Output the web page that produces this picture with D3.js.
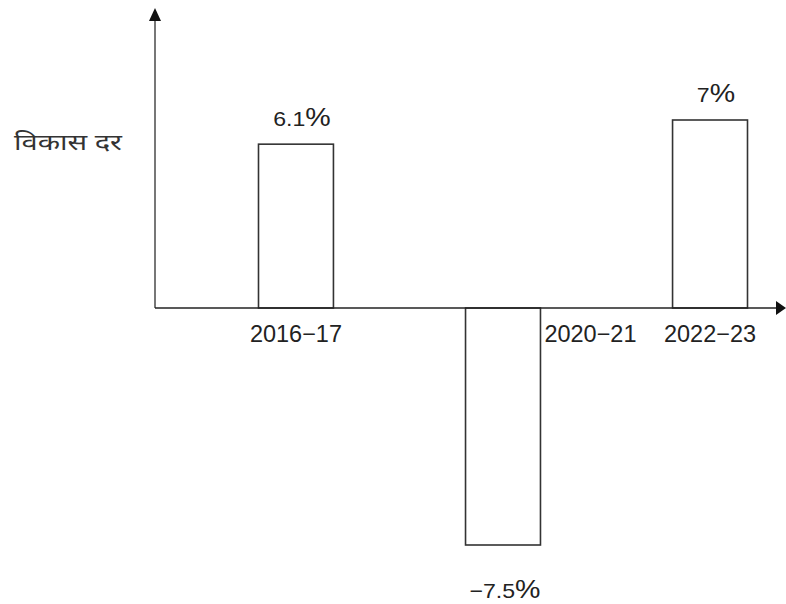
<!DOCTYPE html>
<html><head><meta charset="utf-8">
<script src="https://cdn.jsdelivr.net/npm/d3@7"></script>
<style>html,body{margin:0;padding:0;background:#fff;}svg{display:block;}</style>
</head><body>
<svg id="c" width="786" height="604"></svg>
<script>
const categories = ["2016\u221217", "2020\u221221", "2022\u221223"];
const values = [6.1, -7.5, 7];
const valueLabels = ["6.1", "\u22127.5", "7"];
const yLabel = "विकास दर";

const svg = d3.select("#c");
const ink = "#333";
const font = "'Liberation Sans', Arial, sans-serif";

const axisX0 = 155, axisX1 = 786, axisTop = 8;
const x = d3.scaleBand().domain(categories).range([258.5, 747.5]).paddingInner(0.638).paddingOuter(0);
const y = d3.scaleLinear()
  .domain([d3.min(values), 0, d3.max(values)])
  .range([545, 308, 120]);

// bars
svg.selectAll("rect.bar").data(values).join("rect")
  .attr("class", "bar")
  .attr("x", (d, i) => x(categories[i]))
  .attr("width", x.bandwidth())
  .attr("y", d => Math.min(y(d), y(0)))
  .attr("height", d => Math.abs(y(d) - y(0)))
  .attr("fill", "#fff").attr("stroke", ink).attr("stroke-width", 1.6);

// axes
svg.append("line").attr("x1", axisX0).attr("x2", axisX0).attr("y1", y(0)).attr("y2", axisTop + 10)
  .attr("stroke", "#555").attr("stroke-width", 1.6);
svg.append("path").attr("d", `M${axisX0},${axisTop} L${axisX0-6},${axisTop+13} L${axisX0+6},${axisTop+13} Z`).attr("fill", "#111");
svg.append("line").attr("x1", axisX0).attr("x2", axisX1 - 10).attr("y1", y(0)).attr("y2", y(0))
  .attr("stroke", "#222").attr("stroke-width", 1.6);
svg.append("path").attr("d", `M${axisX1},${y(0)} L${axisX1-10},${y(0)-7} L${axisX1-10},${y(0)+7} Z`).attr("fill", "#111");

// category labels
svg.selectAll("text.cat").data(values).join("text")
  .attr("class", "cat")
  .attr("x", (d, i) => d < 0 ? x(categories[i]) + x.bandwidth() + 4 : x(categories[i]) + x.bandwidth() / 2)
  .attr("y", y(0) + 34)
  .attr("text-anchor", d => d < 0 ? "start" : "middle")
  .attr("font-family", font).attr("font-size", 23).attr("fill", "#222")
  .attr("textLength", 92).attr("lengthAdjust", "spacingAndGlyphs")
  .text((d, i) => categories[i]);

// value labels
const vl = svg.selectAll("text.val").data(values).join("text")
  .attr("class", "val")
  .attr("x", (d, i) => x(categories[i]) + x.bandwidth() / 2 + (d < 0 ? 2 : 6))
  .attr("y", d => d < 0 ? y(d) + 53 : y(d) - 18)
  .attr("text-anchor", "middle")
  .attr("font-family", font).attr("fill", "#222");
vl.append("tspan").attr("font-size", 21).text((d, i) => valueLabels[i]);
vl.append("tspan").attr("font-size", 26).text("%");
vl.each(function () {
  const w = this.getComputedTextLength();
  d3.select(this).attr("textLength", w * 1.1).attr("lengthAdjust", "spacingAndGlyphs");
});

// y label
svg.append("text").attr("x", 14).attr("y", 150)
  .attr("font-family", "'Noto Sans Devanagari', 'Lohit Devanagari', 'Noto Sans', 'FreeSans', sans-serif")
  .attr("font-size", 23).attr("fill", "#333")
  .attr("textLength", 108).attr("lengthAdjust", "spacingAndGlyphs")
  .text(yLabel);
</script>
</body></html>
